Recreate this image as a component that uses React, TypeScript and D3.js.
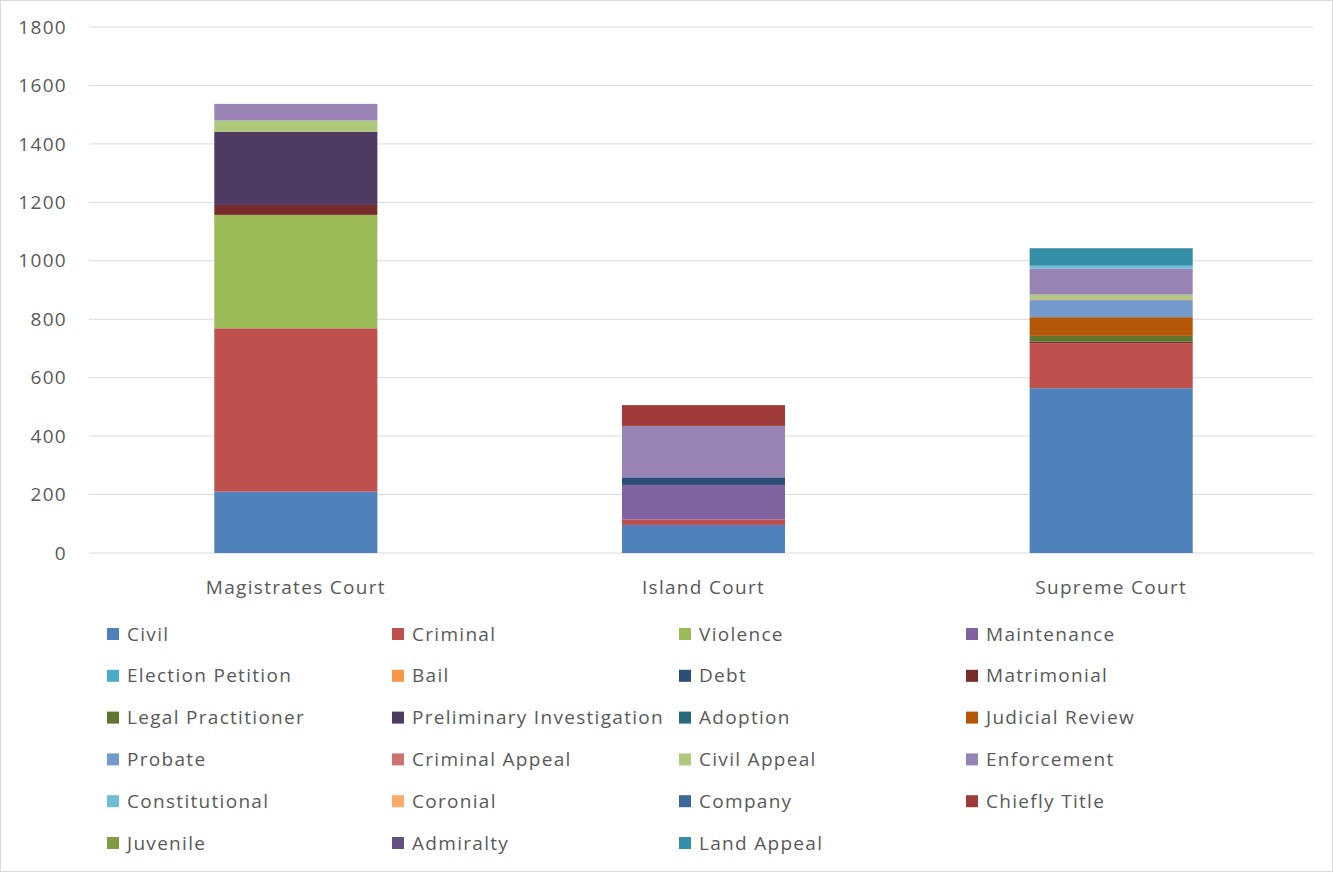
import React from "react";
import * as d3 from "d3";

const courts = ["Magistrates Court", "Island Court", "Supreme Court"];
const seriesNames = [
  "Civil", "Criminal", "Violence", "Maintenance", "Election Petition", "Bail", "Debt", "Matrimonial",
  "Legal Practitioner", "Preliminary Investigation", "Adoption", "Judicial Review", "Probate",
  "Criminal Appeal", "Civil Appeal", "Enforcement", "Constitutional", "Coronial", "Company",
  "Chiefly Title", "Juvenile", "Admiralty", "Land Appeal",
];
const seriesColors = [
  "#4F81BD", "#C0504D", "#9BBB59", "#8064A2", "#4BACC6", "#F79646", "#2C4D75", "#772C2A",
  "#5F7530", "#4D3B62", "#276A7C", "#B65708", "#729ACA", "#CD7371", "#AFC97A", "#9983B5",
  "#6FBDD1", "#F9AB6B", "#3A679C", "#9F3B38", "#7E9C40", "#664F83", "#358EA6",
];
// values per series: [Magistrates, Island, Supreme]
const civil = [210, 96, 564];
const criminal = [559, 19, 154];
const violence = [388, 0, 0];
const maintenance = [0, 118, 0];
const electionPetition = [0, 0, 0];
const bail = [0, 0, 0];
const debt = [0, 26, 0];
const matrimonial = [34, 0, 5];
const legalPractitioner = [0, 0, 20];
const preliminaryInvestigation = [251, 0, 0];
const adoption = [0, 0, 0];
const judicialReview = [0, 0, 64];
const probate = [0, 0, 58];
const criminalAppeal = [0, 0, 3];
const civilAppeal = [38, 0, 16];
const enforcement = [57, 176, 89];
const constitutional = [0, 0, 10];
const coronial = [0, 0, 0];
const company = [0, 0, 0];
const chieflyTitle = [0, 71, 0];
const juvenile = [0, 0, 0];
const admiralty = [0, 0, 0];
const landAppeal = [0, 0, 60];
const yTicks = [0, 200, 400, 600, 800, 1000, 1200, 1400, 1600, 1800];

const seriesValues = [
  civil, criminal, violence, maintenance, electionPetition, bail, debt, matrimonial,
  legalPractitioner, preliminaryInvestigation, adoption, judicialReview, probate,
  criminalAppeal, civilAppeal, enforcement, constitutional, coronial, company,
  chieflyTitle, juvenile, admiralty, landAppeal,
];

const W = 1333, H = 872;
const FONT = "'Open Sans', sans-serif";
const FS = 19;
const LS = 1.3;

export default function App() {
  const rows = courts.map((c, ci) => {
    const r: any = { court: c };
    seriesNames.forEach((s, si) => (r[s] = seriesValues[si][ci]));
    return r;
  });
  const stacked = d3.stack().keys(seriesNames)(rows);
  const x = d3.scaleBand().domain(courts).range([92, 1315]).paddingInner(0.6).paddingOuter(0.3);
  const y = d3.scaleLinear().domain([0, 1800]).range([553, 27]);

  const legendCols = [107, 392, 679, 966];
  const legendY0 = 634, legendDy = 41.8;

  return (
    <svg width={W} height={H} style={{ position: "fixed", left: 0, top: 0, background: "#fff" }}>
      <rect x={0.5} y={0.5} width={W - 1} height={H - 1} fill="#fff" stroke="#d9d9d9" />
      {yTicks.map((t) => (
        <g key={t}>
          <line x1={89} x2={1313} y1={y(t)} y2={y(t)} stroke="#d9d9d9" strokeWidth={1} />
          <text x={67} y={y(t)} dy="0.35em" textAnchor="end" fontFamily={FONT} fontSize={FS}
            letterSpacing={LS} fill="#595959">
            {t}
          </text>
        </g>
      ))}
      {stacked.map((layer, si) => (
        <g key={layer.key} fill={seriesColors[si]}>
          {layer.map((d, ci) =>
            d[1] - d[0] > 0 ? (
              <rect key={ci} x={x(courts[ci])} width={x.bandwidth()} y={y(d[1])} height={y(d[0]) - y(d[1])} />
            ) : null
          )}
        </g>
      ))}
      {courts.map((c) => (
        <text key={c} x={(x(c) as number) + x.bandwidth() / 2} y={587} dy="0.35em" textAnchor="middle"
          fontFamily={FONT} fontSize={FS} letterSpacing={LS} fill="#595959">
          {c}
        </text>
      ))}
      {seriesNames.map((s, i) => {
        const col = i % 4, row = Math.floor(i / 4);
        const lx = legendCols[col], ly = legendY0 + row * legendDy;
        return (
          <g key={s}>
            <rect x={lx} y={ly - 6} width={12} height={12} fill={seriesColors[i]} />
            <text x={lx + 20} y={ly} dy="0.35em" fontFamily={FONT} fontSize={FS} letterSpacing={LS} fill="#595959">
              {s}
            </text>
          </g>
        );
      })}
    </svg>
  );
}
